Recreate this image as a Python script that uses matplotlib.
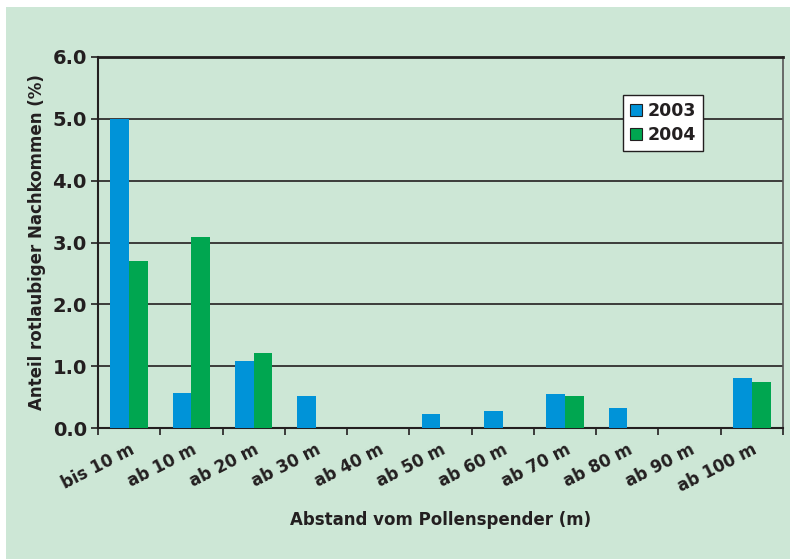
import numpy as np
import matplotlib
matplotlib.use("Agg")
import matplotlib.pyplot as plt
from matplotlib.patches import Rectangle

plt.rcParams['font.family'] = ['DejaVu Sans']
plt.rcParams['font.weight'] = 'bold'

categories = ["bis 10 m", "ab 10 m", "ab 20 m", "ab 30 m", "ab 40 m", "ab 50 m",
              "ab 60 m", "ab 70 m", "ab 80 m", "ab 90 m", "ab 100 m"]
werte_2003 = [5.0, 0.57, 1.08, 0.52, 0.0, 0.22, 0.27, 0.55, 0.32, 0.0, 0.81]
werte_2004 = [2.70, 3.09, 1.21, 0.0, 0.0, 0.0, 0.0, 0.52, 0.0, 0.0, 0.74]
yticks = [0, 1, 2, 3, 4, 5, 6]

bg = '#cde7d6'
dark = '#231f20'
blue = '#0093d8'
green = '#00a650'

fig = plt.figure(figsize=(7.9, 5.59), dpi=100, facecolor='white')
fig.patches.append(Rectangle((6 / 790, 0), 1, 1 - 7 / 559, transform=fig.transFigure,
                             facecolor=bg, edgecolor='none', zorder=-10))
ax = fig.add_axes([98 / 790, 1 - 428 / 559, 685 / 790, 371 / 559])
ax.set_facecolor(bg)

x = np.arange(len(categories))
w = 0.3
ax.bar(x - w / 2, werte_2003, w, color=blue, label='2003', zorder=3)
ax.bar(x + w / 2, werte_2004, w, color=green, label='2004', zorder=3)

ax.set_xlim(-0.5, len(categories) - 0.5)
ax.set_ylim(0, 6)
ax.set_yticks(yticks)
ax.set_yticklabels(["%.1f" % v for v in yticks], fontsize=14, color=dark)
ax.yaxis.grid(True, color=dark, linewidth=1.2, zorder=1)
ax.set_axisbelow(True)

ax.set_xticks(x)
ax.set_xticklabels(categories, rotation=27, ha='right', rotation_mode='anchor',
                   fontsize=12, color=dark)
ax.tick_params(axis='x', length=0, pad=9)
ax.set_xticks(np.arange(-0.5, len(categories)), minor=True)
ax.tick_params(axis='x', which='minor', length=5, width=1.2, color=dark, direction='out')
ax.tick_params(axis='y', length=5, width=1.2, color=dark, direction='out', pad=3)

for side in ['left', 'bottom', 'top']:
    ax.spines[side].set_color(dark)
    ax.spines[side].set_linewidth(1.5)
ax.spines['top'].set_linewidth(2)
ax.spines['right'].set_color('#555555')
ax.spines['right'].set_linewidth(1.2)

ax.set_ylabel("Anteil rotlaubiger Nachkommen (%)", fontsize=12, fontweight='bold',
              color=dark, labelpad=5)
ax.set_xlabel("Abstand vom Pollenspender (m)", fontsize=12, fontweight='bold',
              color=dark, labelpad=11)

leg = ax.legend(loc='upper left', bbox_to_anchor=(0.766, 0.897), fontsize=12.5,
                frameon=True, fancybox=False, handlelength=0.7, handleheight=0.7,
                handletextpad=0.35, borderpad=0.4, labelspacing=0.35, borderaxespad=0)
leg.get_frame().set_edgecolor(dark)
leg.get_frame().set_linewidth(1.0)
leg.get_frame().set_facecolor('white')
leg.get_frame().set_alpha(1)
for h in leg.legend_handles:
    h.set_edgecolor(dark)
    h.set_linewidth(0.8)
for t in leg.get_texts():
    t.set_color(dark)

fig.savefig('out.png', dpi=100, facecolor=fig.get_facecolor())
